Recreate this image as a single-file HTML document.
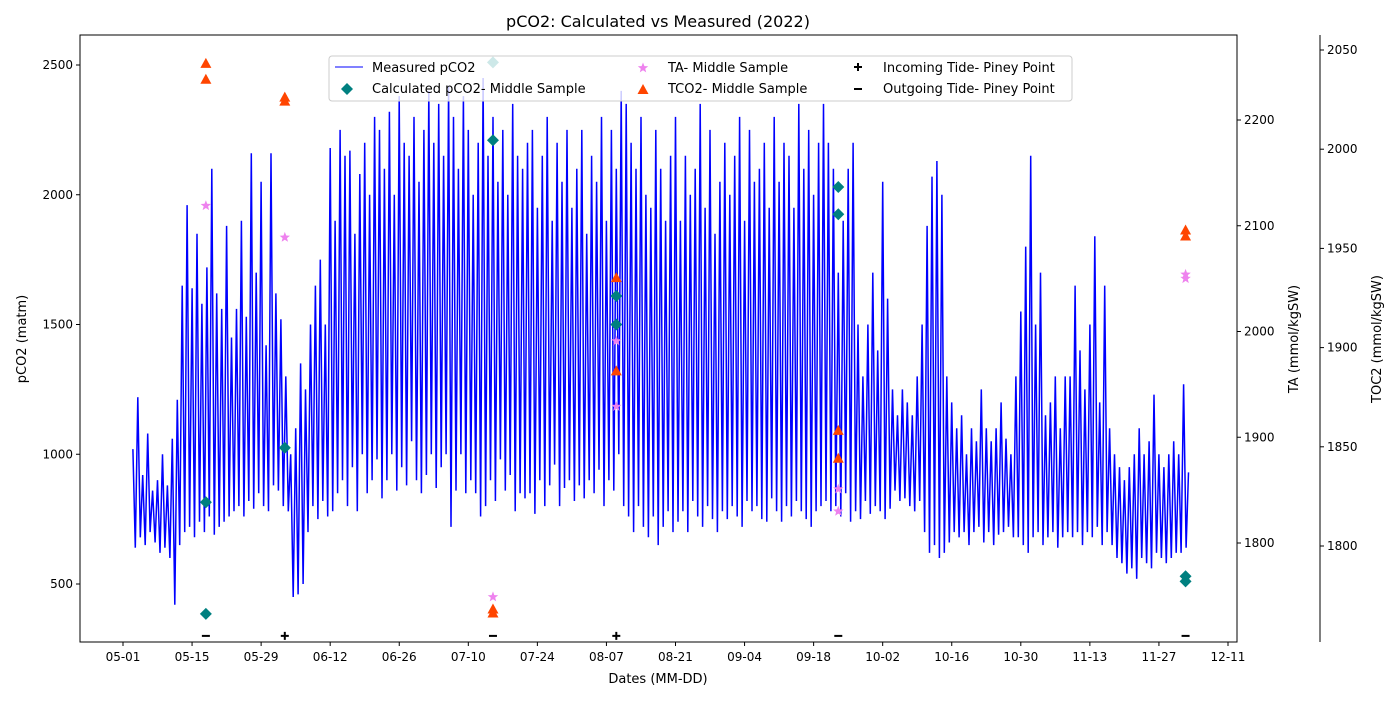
<!DOCTYPE html>
<html><head><meta charset="utf-8"><style>
body{margin:0;background:#fff;font-family:"Liberation Sans","DejaVu Sans",sans-serif}
svg text{font-family:"DejaVu Sans","Liberation Sans",sans-serif;fill:#000}
</style></head><body>
<svg id="chart" width="1400" height="700" xmlns="http://www.w3.org/2000/svg"></svg>
<script>
// day offsets are days since 05-01
const xTickLabels=["05-01","05-15","05-29","06-12","06-26","07-10","07-24","08-07","08-21","09-04","09-18","10-02","10-16","10-30","11-13","11-27","12-11"];
const leftTicks=[500,1000,1500,2000,2500];
const taTicks=[1800,1900,2000,2100,2200];
const tcoTicks=[1800,1850,1900,1950,2000,2050];
const measStartDay=2;
const dailyHigh=[1020,1220,920,1080,860,900,1000,880,1060,1210,
1650,1960,1640,1850,1580,1720,2100,1620,1560,1880,
1450,1560,1900,1530,2160,1700,2050,1420,2160,1620,
1520,1300,1000,1100,1350,1250,1500,1650,1750,1500,
2180,1900,2250,2150,2170,1850,2080,2200,2000,2300,
2250,2100,2320,2000,2380,2200,2150,2300,2050,2250,
2400,2200,2350,2150,2420,2300,2100,2380,2250,2000,
2200,2450,2150,2300,2050,2250,2000,2350,2150,2100,
2200,2250,1950,2150,2300,1900,2200,2050,2250,1950,
2100,2250,1850,2150,2050,2300,1900,2250,2100,2400,
2350,2200,2100,2300,2000,1950,2250,2100,1900,2150,
2300,1900,2150,2000,2100,2350,1950,2250,1850,2050,
2200,2000,2150,2300,1900,2250,2050,2100,2200,1950,
2300,2050,2200,2150,1950,2350,2100,2250,2000,2200,
2350,2200,2100,1700,1900,2100,2200,1500,1300,1500,
1700,1400,2050,1600,1250,1150,1250,1200,1150,1300,
1500,1880,2070,2130,2000,1300,1200,1100,1150,1000,
1100,1050,1250,1100,1050,1100,1200,1060,1000,1300,
1550,1800,2150,1500,1700,1150,1200,1300,1100,1300,
1300,1650,1400,1250,1500,1840,1200,1650,1100,1000,
950,900,950,1000,1100,1000,1050,1230,1000,950,
1000,1050,1000,1270];
const dailyLow=[640,680,650,700,660,620,640,600,420,650,
700,720,680,740,700,760,690,720,740,760,
780,800,760,820,790,850,800,780,880,860,
800,780,450,460,500,700,800,750,820,760,
780,850,900,800,950,780,1000,850,900,980,
830,900,1000,860,950,880,1050,900,850,920,
1000,870,950,1000,720,860,1000,850,900,850,
760,800,900,820,980,860,920,780,850,830,
850,770,900,800,880,960,800,870,900,820,
880,830,900,850,940,800,900,860,1000,800,
760,700,800,720,680,760,650,720,780,700,
740,780,700,820,760,720,800,750,700,780,
750,800,760,720,820,780,800,750,740,830,
780,740,800,760,820,780,750,720,780,800,
820,780,800,760,850,740,780,750,820,770,
800,780,750,790,860,820,830,800,780,820,
700,620,650,600,620,660,700,680,700,650,
700,720,660,700,650,690,700,720,680,680,
650,620,680,700,650,680,700,640,680,700,
680,700,650,700,680,720,650,700,650,600,
580,540,560,520,600,580,560,620,600,580,
600,620,620,640];
const measEnd=930;
const calcDays=[16.8,16.8,32.8,100,100,145,145,215.4,215.4];
const calcVals=[815,385,1025,1610,1500,2030,1925,530,510];
const calcFaintDays=[75,75];
const calcFaintVals=[2210,2510];
const taDays=[16.8,32.8,75,100,100,145,145,215.4,215.4];
const taVals=[2119,2089,1749,1991,1929,1851,1830,2054,2050];
const tcoDays=[16.8,16.8,32.8,32.8,75,75,100,100,145,145,215.4,215.4];
const tcoVals=[2043,2035,2026,2024,1768,1766,1935,1888,1858,1844,1959,1956];
const tideInDays=[32.8,100];
const tideOutDays=[16.8,75,145,215.4];
const tideLevel=300;

const NS="http://www.w3.org/2000/svg";
const svg=document.getElementById('chart');
const L=80,R=1237,T=35,B=642;
const x=d=>123+d*4.933;
const y=v=>584-(v-500)*0.2595;
const yTA=v=>543-(v-1800)*1.0575;
const yTC=v=>546-(v-1800)*1.984;
function el(tag,attrs,parent){const e=document.createElementNS(NS,tag);for(const k in attrs)e.setAttribute(k,attrs[k]);(parent||svg).appendChild(e);return e;}
function txt(s,attrs,parent){const e=el('text',attrs,parent);e.textContent=s;return e;}

const t=txt('pCO2: Calculated vs Measured (2022)',{x:658,y:27,'text-anchor':'middle','font-size':16});


const defs=el('defs',{});const cp=el('clipPath',{id:'pc'},defs);el('rect',{x:L,y:T,width:R-L,height:B-T},cp);

const gx=el('g',{});
xTickLabels.forEach((lb,i)=>{const xx=x(i*14);el('line',{x1:xx,x2:xx,y1:B,y2:B+4,stroke:'#000'},gx);const tt=txt(lb,{x:xx,y:B+19,'text-anchor':'middle','font-size':12},gx);});
txt('Dates (MM-DD)',{x:658,y:683,'text-anchor':'middle','font-size':13},gx);
const gy=el('g',{});
leftTicks.forEach(v=>{el('line',{x1:L-4,x2:L,y1:y(v),y2:y(v),stroke:'#000'},gy);txt(v,{x:L-7,y:y(v)+4,'text-anchor':'end','font-size':12},gy);});
txt('pCO2 (matm)',{x:0,y:0,transform:'translate(26,339) rotate(-90)','text-anchor':'middle','font-size':13},gy);
const gr=el('g',{});
taTicks.forEach(v=>{el('line',{x1:R,x2:R+4,y1:yTA(v),y2:yTA(v),stroke:'#000'},gr);txt(v,{x:R+7,y:yTA(v)+4,'font-size':12},gr);});
txt('TA (mmol/kgSW)',{x:0,y:0,transform:'translate(1298,339) rotate(-90)','text-anchor':'middle','font-size':13},gr);
const g3=el('g',{});
el('line',{x1:1320,x2:1320,y1:T,y2:B,stroke:'#000'},g3);
tcoTicks.forEach(v=>{el('line',{x1:1320,x2:1324,y1:yTC(v),y2:yTC(v),stroke:'#000'},g3);txt(v,{x:1327,y:yTC(v)+4,'font-size':12},g3);});
txt('TOC2 (mmol/kgSW)',{x:0,y:0,transform:'translate(1381,339) rotate(-90)','text-anchor':'middle','font-size':13},g3);

let pts=[];
dailyHigh.forEach((h,i)=>{const d=measStartDay+i;pts.push(x(d).toFixed(1)+','+y(h).toFixed(1));pts.push(x(d+0.5).toFixed(1)+','+y(dailyLow[i]).toFixed(1));});
pts.push(x(measStartDay+dailyHigh.length).toFixed(1)+','+y(measEnd).toFixed(1));
const ml=el('polyline',{points:pts.join(' '),fill:'none',stroke:'#0000ff','stroke-width':1.5,'stroke-linejoin':'miter','clip-path':'url(#pc)'});


function diamond(cx,cy,c,name){const p=el('polygon',{points:`${cx},${cy-6} ${cx+6},${cy} ${cx},${cy+6} ${cx-6},${cy}`,fill:c});}
function star(cx,cy,name){let s=[];for(let k=0;k<10;k++){const r=k%2?2.3:5.5,a=-Math.PI/2+k*Math.PI/5;s.push((cx+r*Math.cos(a)).toFixed(1)+','+(cy+r*Math.sin(a)).toFixed(1));}const p=el('polygon',{points:s.join(' '),fill:'#ee82ee'});}
function tri(cx,cy,name){const p=el('polygon',{points:`${cx},${cy-6} ${cx+5.5},${cy+4} ${cx-5.5},${cy+4}`,fill:'#ff4500'});}
calcDays.forEach((d,i)=>diamond(x(d),y(calcVals[i]),'#008080','calculated-pco2-point'));
diamond(x(calcFaintDays[0]),y(calcFaintVals[0]),'#008080','calculated-pco2-point');
taDays.forEach((d,i)=>star(x(d),yTA(taVals[i]),'ta-point'));
tcoDays.forEach((d,i)=>tri(x(d),yTC(tcoVals[i]),'tco2-point'));
tideInDays.forEach(d=>{const g=el('g',{});const xx=x(d),yy=y(tideLevel);el('path',{d:`M${xx-4},${yy}H${xx+4}M${xx},${yy-4}V${yy+4}`,stroke:'#000','stroke-width':2},g);});
tideOutDays.forEach(d=>{const xx=x(d),yy=y(tideLevel);const p=el('path',{d:`M${xx-4},${yy}H${xx+4}`,stroke:'#000','stroke-width':2});});

el('rect',{x:L,y:T,width:R-L,height:B-T,fill:'none',stroke:'#000','stroke-width':1});

const lg=el('g',{});
el('rect',{x:329,y:56,width:743,height:45,rx:3,fill:'#fff','fill-opacity':0.8,stroke:'#ccc'},lg);
el('line',{x1:335,x2:363,y1:67,y2:67,stroke:'#0000ff'},lg);
txt('Measured pCO2',{x:372,y:72,'font-size':13},lg);
el('polygon',{points:'347,83 353,89 347,95 341,89',fill:'#008080'},lg);
txt('Calculated pCO2- Middle Sample',{x:372,y:93,'font-size':13},lg);
star(643,68,'legend-ta-marker');
txt('TA- Middle Sample',{x:668,y:72,'font-size':13},lg);
tri(643,90,'legend-tco2-marker');
txt('TCO2- Middle Sample',{x:668,y:93,'font-size':13},lg);
el('path',{d:'M854,67H862M858,63V71',stroke:'#000','stroke-width':2},lg);
txt('Incoming Tide- Piney Point',{x:883,y:72,'font-size':13},lg);
el('path',{d:'M854,89H862',stroke:'#000','stroke-width':2},lg);
txt('Outgoing Tide- Piney Point',{x:883,y:93,'font-size':13},lg);
// faint diamond shows through the legend in the reference
diamond(x(calcFaintDays[1]),y(calcFaintVals[1]),'#cde8e8','calculated-pco2-faint-point');
</script>
</body></html>
